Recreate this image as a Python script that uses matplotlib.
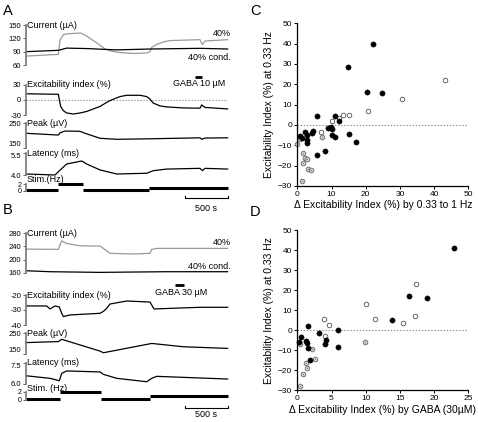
import matplotlib
matplotlib.use('Agg')
import matplotlib.pyplot as plt

plt.rcParams['font.family'] = 'Liberation Sans'

W, H = 478, 422

# ---------------- panel A traces (time in s) ----------------
a_cur_t = [0, 379, 398, 437, 476, 632, 652, 710, 827, 925, 1003, 1101, 1257, 1413, 1452, 1472, 1530, 1608, 1686, 2037, 2065, 2096, 2361]
a_cur_v = [80, 84, 116, 128, 130, 132, 131, 125, 110, 96, 91, 88, 86, 87, 90, 100, 106, 112, 115, 117, 106, 114, 117]
a_cond_t = [0, 379, 476, 710, 1062, 1452, 2037, 2361]
a_cond_v = [90, 93, 98, 97, 94, 96, 97.5, 96]
a_exc_t = [0, 379, 390, 406, 437, 476, 554, 632, 710, 788, 867, 945, 1003, 1101, 1179, 1335, 1413,
           1452, 1472, 1491, 1569, 1647, 1842, 2037, 2057, 2096, 2361]
a_exc_v = [12, 11, 0, -13, -21.5, -26, -28, -26, -23, -18, -13, -5, 0, 6.5, 9, 9, 6.5,
           1.5, -3, -6.5, -12, -14, -16, -16.5, -10, -15, -18]
a_peak_t = [0, 379, 398, 457, 632, 691, 867, 1062, 1452, 2037, 2057, 2096, 2361]
a_peak_v = [210, 203, 212, 219, 218, 210, 190, 186, 188, 192, 186, 191, 192]
a_lat_t = [0, 340, 379, 476, 652, 710, 867, 1062, 1413, 1491, 1647, 2037, 2065, 2096, 2361]
a_lat_v = [4.07, 4.0, 4.23, 4.76, 4.97, 4.76, 4.35, 4.07, 4.12, 4.3, 4.41, 4.46, 4.3, 4.46, 4.41]
a_stim_edges = [0, 379, 664, 1440, 2361]
a_stim_hz = [0.33, 2, 0.33, 1]
a_gaba = [1979, 2061]

# ---------------- panel B traces ----------------
b_cur_t = [0, 379, 398, 418, 476, 632, 867, 906, 984, 1257, 1452, 1472, 1530, 2361]
b_cur_v = [232, 231, 245, 257, 249, 242, 241, 234, 219, 217, 219, 231, 234, 234]
b_cond_t = [0, 281, 867, 1647, 2361]
b_cond_v = [166, 163, 161, 163, 163]
b_exc_t = [0, 242, 281, 340, 390, 418, 437, 515, 867, 906, 945, 984, 1179, 1452, 1483, 1499, 2037, 2361]
b_exc_v = [-27.3, -27.3, -29.3, -27.3, -28, -32.2, -34.4, -33.3, -32.2, -30.9, -28.9, -26, -24, -24.7,
           -27.8, -29.3, -28.2, -28.2]
b_peak_t = [0, 379, 418, 867, 906, 1472, 1842, 2361]
b_peak_v = [205, 210, 221, 164, 156, 201, 185, 177]
b_lat_t = [0, 281, 390, 418, 476, 867, 906, 1062, 1413, 1472, 1530, 2361]
b_lat_v = [6.58, 6.4, 6.23, 6.75, 6.92, 6.85, 6.68, 6.4, 6.16, 6.4, 6.54, 6.35]
b_stim_edges = [0, 398, 878, 1452, 2361]
b_stim_hz = [0.33, 2, 0.33, 1]
b_gaba = [1745, 1850]

# ---------------- panel C scatter ----------------
c_fill_x = [22, 14.7, 20.3, 24.8, 5.7, 11, 12.1, 8.9, 9.8, 10.2, 10.1, 11, 15.2, 17.2, 8, 5.7,
            0.8, 2.2, 2.9, 4.5, 4.3, 1.4, 2.7, 2.9]
c_fill_y = [40, 28.7, 16.4, 15.6, 4.4, 4.2, 1.8, -1.5, -0.8, -2, -4.9, -6, -4.6, -8.2, -12.6, -15,
            -5.2, -3.6, -4.8, -2.8, -3.8, -6.6, -7.4, -8.7]
c_open_x = [43.1, 30.6, 20.6, 13.3, 15, 12.3, 10, 6.9]
c_open_y = [22.2, 12.8, 7, 5.1, 5.1, 3.3, 2.1, -3.3]
c_cross_x = [0.7, 0, 1.7, 2.3, 2.8, 1.6, 3.0, 3.9, 1.3, 7.2]
c_cross_y = [-7, -9.5, -14, -16, -16.5, -18.5, -21.8, -22, -27.7, -5.7]

# ---------------- panel D scatter ----------------
d_fill_x = [22.9, 16.3, 18.9, 13.9, 1.6, 0.6, 0.2, 1.2, 1.4, 1.5, 3.1, 4.0, 4.2, 6, 6, 1.9]
d_fill_y = [41, 17, 16.2, 5, 2.2, -3.2, -5.7, -5.2, -6.5, -8.7, -1.5, -7, -4.8, 0.2, -8.2, -14.8]
d_open_x = [17.3, 10, 17.2, 11.3, 3.9, 15.4, 4.7, 4.1]
d_open_y = [23, 13.3, 7.3, 5.8, 5.6, 3.6, 2.5, -2.8]
d_cross_x = [0.4, 2.1, 2.6, 1.2, 1.4, 0.9, 0.4, 9.9]
d_cross_y = [-7, -9.5, -14.2, -16.2, -18.7, -21.8, -27.8, -5.7]

GRAY = '#9a9a9a'
TICK_FS = 5.5
LAB_FS = 6.5

fig = plt.figure(figsize=(W / 100, H / 100), dpi=100)


def px_axes(x0, y0, x1, y1):
    return fig.add_axes([x0 / W, 1 - y1 / H, (x1 - x0) / W, (y1 - y0) / H])


def trace_axes(top, bottom, lo, hi, ticks, ticklabels, label, label_y=None):
    ax = px_axes(25.5, top, 228, bottom)
    ax.set_xlim(-6, 2365)
    ax.set_ylim(lo, hi)
    ax.patch.set_alpha(0)
    for s in ['top', 'right', 'bottom']:
        ax.spines[s].set_visible(False)
    ax.spines['left'].set_color('#808080')
    ax.spines['left'].set_linewidth(1.3)
    ax.set_xticks([])
    ax.set_yticks(ticks)
    ax.set_yticklabels(ticklabels)
    ax.tick_params(axis='y', length=2.2, width=0.7, pad=0.8, labelsize=TICK_FS, color='#606060')
    ax.text(12, hi if label_y is None else label_y, label, fontsize=LAB_FS, va='center', ha='left')
    return ax


def draw_panel(tops, cur, exc, peak, lat, stim, gaba, gaba_txt, txt_pos):
    (t0, b0, lo0, hi0, tk0), (t1, b1, lo1, hi1, tk1), (t2, b2, lo2, hi2, tk2), \
        (t3, b3, lo3, hi3, tk3), (t4, b4, stim_lab_y) = tops
    # current
    ax = trace_axes(t0, b0, lo0, hi0, tk0, [str(v) for v in tk0], 'Current (µA)')
    ax.plot(cur[0], cur[1], color=GRAY, lw=0.9, clip_on=False)
    ax.plot(cur[2], cur[3], color='k', lw=0.9, clip_on=False)
    ax.text(2395, txt_pos[0], '40%', fontsize=LAB_FS, ha='right', va='center')
    ax.text(2400, txt_pos[1], '40% cond.', fontsize=LAB_FS, ha='right', va='center')

    # excitability index
    ax = trace_axes(t1, b1, lo1, hi1, tk1, [str(v) for v in tk1], 'Excitability index (%)')
    if lo1 < 0 < hi1:
        ax.axhline(0, ls=(0, (1.2, 1.5)), color='#909090', lw=0.8)
    ax.plot(exc[0], exc[1], color='k', lw=0.9, clip_on=False)
    ax.plot(gaba, [txt_pos[2]] * 2, color='k', lw=2, solid_capstyle='butt', clip_on=False)
    ax.text(txt_pos[3], txt_pos[4], gaba_txt, fontsize=LAB_FS, ha='left', va='center')

    # peak
    ax = trace_axes(t2, b2, lo2, hi2, tk2, [str(v) for v in tk2], 'Peak (µV)')
    ax.plot(peak[0], peak[1], color='k', lw=0.9, clip_on=False)
    ax.get_yticklabels()[0].set_va('bottom')

    # latency
    ax = trace_axes(t3, b3, lo3, hi3, tk3, ['%.1f' % v for v in tk3], 'Latency (ms)')
    ax.plot(lat[0], lat[1], color='k', lw=0.9, clip_on=False)
    ax.get_yticklabels()[-1].set_va('top')

    # stimulation frequency
    ax = trace_axes(t4, b4, 0, 2, [0, 2], ['0', '2'], stim[2], label_y=stim_lab_y)
    ax.tick_params(axis='y', labelsize=5.0)
    edges, hz = stim[0], stim[1]
    ax.hlines(hz, edges[:-1], edges[1:], colors='k', lw=2.2, clip_on=False)
    # 500 s scale bar
    sb_y, sb_txt = txt_pos[5], txt_pos[6]
    tick_h = (sb_y - sb_txt) * 0.25
    ax.plot([1862, 1862, 2362, 2362], [sb_y + tick_h, sb_y, sb_y, sb_y + tick_h],
            color='k', lw=0.8, clip_on=False)
    ax.text(2112, sb_txt, '500 s', fontsize=LAB_FS, ha='center', va='center')


draw_panel(
    [(25, 65, 60, 150, [60, 90, 120, 150]),
     (84.7, 115, -30, 30, [-30, 0, 30]),
     (123.3, 148.3, 150, 250, [150, 250]),
     (153.3, 175, 4.0, 5.5, [4.0, 5.5]),
     (184.3, 191, 3.3)],
    (a_cur_t, a_cur_v, a_cond_t, a_cond_v), (a_exc_t, a_exc_v), (a_peak_t, a_peak_v),
    (a_lat_t, a_lat_v), (a_stim_edges, a_stim_hz, 'Stim.(Hz)'), a_gaba, 'GABA 10 µM',
    [132, 78, 44.5, 1725, 33, -2.2, -5.1])

draw_panel(
    [(233.3, 272.7, 160, 280, [160, 200, 240, 280]),
     (295, 325, -40, -20, [-40, -30, -20]),
     (333.3, 354, 150, 250, [150, 250]),
     (362.7, 384, 6.0, 7.5, [6.0, 7.5]),
     (391.7, 400, 2.8)],
    (b_cur_t, b_cur_v, b_cond_t, b_cond_v), (b_exc_t, b_exc_v), (b_peak_t, b_peak_v),
    (b_lat_t, b_lat_v), (b_stim_edges, b_stim_hz, 'Stim. (Hz)'), b_gaba, 'GABA 30 µM',
    [253.5, 178, -13.3, 1510, -18.2, -1.86, -3.4])


def scatter_axes(y0, y1, xmax, xticks, xlabel, fx, fy, ox, oy, cx, cy):
    ax = px_axes(297.3, y0, 468.3, y1)
    ax.set_xlim(0, xmax)
    ax.set_ylim(-30, 50)
    ax.patch.set_alpha(0)
    for s in ['top', 'right']:
        ax.spines[s].set_visible(False)
    for s in ['left', 'bottom']:
        ax.spines[s].set_linewidth(0.9)
    ax.set_xticks(xticks)
    ax.set_yticks(range(-30, 51, 10))
    ax.tick_params(length=2.5, width=0.7, pad=1.2, labelsize=6)
    ax.axhline(0, ls=(0, (1.2, 1.6)), color='#888888', lw=0.8)
    ax.plot(cx, cy, 'o', ms=3.3, mfc='white', mec='#707070', mew=0.7, clip_on=False)
    ax.plot(cx, cy, 'x', ms=1.4, color='#707070', mew=0.5, clip_on=False)
    ax.plot(ox, oy, 'o', ms=3.3, mfc='white', mec='#505050', mew=0.6, clip_on=False)
    ax.plot(fx, fy, 'o', ms=3.8, color='k', mec='k', mew=0.3, clip_on=False)
    ax.set_xlabel(xlabel, fontsize=7.5, labelpad=1.5)
    ax.set_ylabel('Excitability Index (%) at 0.33 Hz', fontsize=7.5, labelpad=3)
    return ax


scatter_axes(23.3, 186, 50, range(0, 51, 10), 'Δ Excitability Index (%) by 0.33 to 1 Hz',
             c_fill_x, c_fill_y, c_open_x, c_open_y, c_cross_x, c_cross_y)
scatter_axes(230.3, 390.3, 25, range(0, 26, 5), 'Δ Excitability Index (%) by GABA (30µM)',
             d_fill_x, d_fill_y, d_open_x, d_open_y, d_cross_x, d_cross_y)

for letter, x, y in [('A', 3, 15), ('B', 3, 214), ('C', 250, 15), ('D', 250, 216)]:
    fig.text(x / W, 1 - y / H, letter, fontsize=10.5, va='baseline', ha='left')

fig.savefig('out.png', dpi=100)
